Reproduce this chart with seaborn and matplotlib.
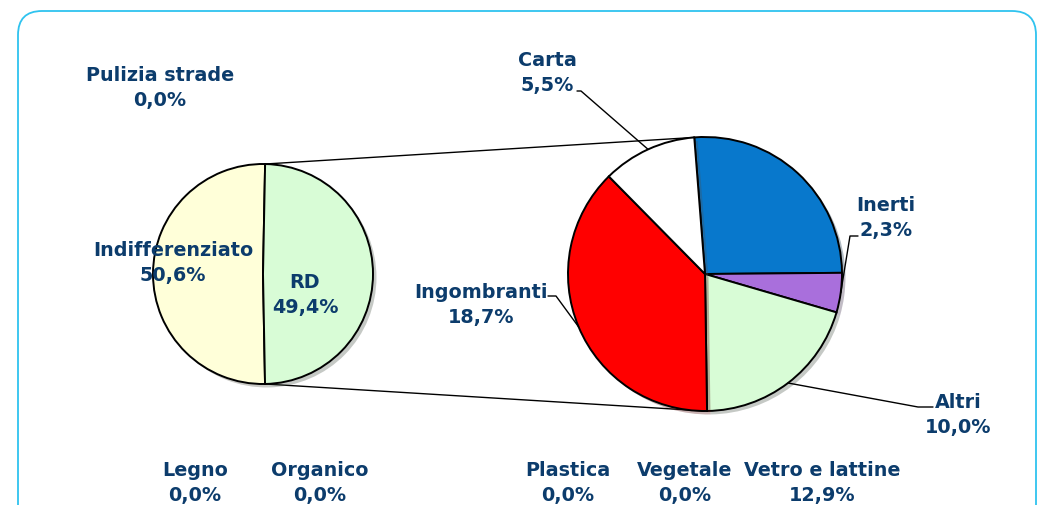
import numpy as np
import matplotlib
matplotlib.use("Agg")
import matplotlib.pyplot as plt
import matplotlib.patheffects as pe
from matplotlib.patches import FancyBboxPatch
import seaborn as sns

# ---- data ----
main_labels = ["Indifferenziato", "RD"]
main_values = [50.6, 49.4]
zero_main_label = "Pulizia strade"
zero_main_value = 0.0

rd_labels = ["Vetro e lattine", "Inerti", "Altri", "Ingombranti", "Carta"]
rd_values = [12.9, 2.3, 10.0, 18.7, 5.5]
zero_rd_labels = ["Legno", "Organico", "Plastica", "Vegetale"]
zero_rd_values = [0.0, 0.0, 0.0, 0.0]

sns.set_theme(style="white")
plt.rcParams['font.family'] = ['DejaVu Sans']

W, H = 1039, 506
fig = plt.figure(figsize=(W / 100, H / 100), dpi=100)
ax = fig.add_axes([0, 0, 1, 1])
ax.set_axis_off()

def Y(yp):
    return H - yp

TXT = "#0c3c6c"
FS = 13.8

def fmt(v):
    return f"{v:.1f}".replace(".", ",") + "%"

shadow = [pe.SimplePatchShadow(offset=(2.5, -2.5), alpha=0.3), pe.Normal()]

# ---- left pie ----
c1 = (263, Y(275)); r1 = 110
main_colors = ["#ffffd9", "#d8fcd6"]
w1, _ = ax.pie(main_values, colors=main_colors, startangle=88.9, counterclock=True,
               center=c1, radius=r1,
               wedgeprops=dict(edgecolor="black", linewidth=1.4))
for w in w1:
    w.set_path_effects(shadow)

# ---- right pie ----
c2 = (705, Y(275)); r2 = 137
rd_colors = ["#0878cc", "#a96fdc", "#d8fcd6", "#ff0000", "#ffffff"]
w2, _ = ax.pie(rd_values, colors=rd_colors, startangle=94.5, counterclock=False,
               center=c2, radius=r2,
               wedgeprops=dict(edgecolor="black", linewidth=1.4))
for w in w2:
    w.set_path_effects(shadow)

ax.set_xlim(0, W)
ax.set_ylim(0, H)
ax.set_aspect("equal")

# ---- connector lines between pies ----
def rim(center, r, ang):
    a = np.deg2rad(ang)
    return center[0] + r * np.cos(a), center[1] + r * np.sin(a)

top1 = rim(c1, r1, w1[0].theta1)
bot1 = rim(c1, r1, w1[0].theta2)
top2 = rim(c2, r2, w2[0].theta2)
bot2 = rim(c2, r2, 270)
ax.plot([top1[0], top2[0]], [top1[1], top2[1]], color="black", lw=1.0, zorder=0)
ax.plot([bot1[0], bot2[0]], [bot1[1], bot2[1]], color="black", lw=1.0, zorder=0)

# ---- labels ----
def label(text, value, x, y):
    ax.text(x, Y(y), f"{text}\n{fmt(value)}", ha="center", va="center",
            fontsize=FS, fontweight="bold", color=TXT, linespacing=1.42, zorder=5)

label(zero_main_label, zero_main_value, 160, 88)
label(main_labels[0], main_values[0], 173, 263)
label(main_labels[1], main_values[1], 305, 295)

rd_pos = {"Vetro e lattine": (822, 483), "Inerti": (886, 218), "Altri": (958, 415),
          "Ingombranti": (481, 305), "Carta": (547, 73)}
for lab, val in zip(rd_labels, rd_values):
    label(lab, val, *rd_pos[lab])

zero_pos = {"Legno": (195, 483), "Organico": (320, 483), "Plastica": (568, 483),
            "Vegetale": (685, 483)}
for lab, val in zip(zero_rd_labels, zero_rd_values):
    label(lab, val, *zero_pos[lab])

# ---- leader lines ----
def mid_angle(w):
    return 0.5 * (w.theta1 + w.theta2)

leaders = {"Carta": [(577, 92), (581, 92)], "Inerti": [(858, 237), (850, 237)],
           "Ingombranti": [(548, 297), (556, 297)], "Altri": [(933, 408), (918, 408)]}
for i, lab in enumerate(rd_labels):
    if lab in leaders:
        p = rim(c2, r2, mid_angle(w2[i]))
        pts = [(x, Y(y)) for x, y in leaders[lab]] + [p]
        xs, ys = zip(*pts)
        ax.plot(xs, ys, color="black", lw=1.0, zorder=4)

# ---- frame ----
frame = FancyBboxPatch((18, Y(540)), 1018, 528,
                       boxstyle="round,pad=0,rounding_size=24",
                       fc="none", ec="#2fc3ef", lw=1.3, zorder=0, clip_on=False)
ax.add_patch(frame)

fig.savefig("out.png", dpi=100)
